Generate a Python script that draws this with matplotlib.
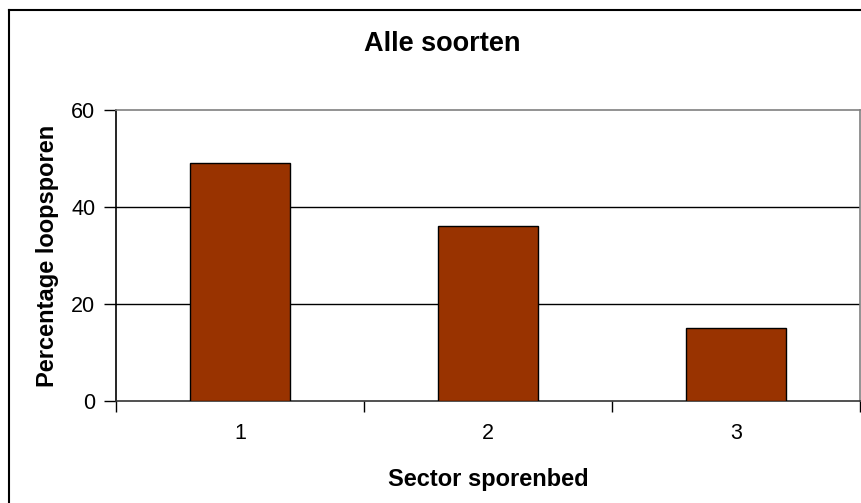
import matplotlib
matplotlib.use("Agg")
import matplotlib.pyplot as plt
from matplotlib.lines import Line2D

plt.rcParams['font.family'] = ['Liberation Sans', 'DejaVu Sans']

categories = ["1", "2", "3"]
values = [49, 36, 15]
yticks = [0, 20, 40, 60]
title = "Alle soorten"
xlabel = "Sector sporenbed"
ylabel = "Percentage loopsporen"

W, H = 861, 503
fig = plt.figure(figsize=(W / 100, H / 100), dpi=100)
ax = fig.add_axes([116 / W, 1 - 401 / H, (860 - 116) / W, (401 - 110) / H])

x = list(range(1, len(categories) + 1))
ax.bar(x, values, width=0.4, color="#993300", edgecolor="black", linewidth=1.0, zorder=3)

ax.set_xlim(0.5, len(categories) + 0.5)
ax.set_ylim(0, 60)
ax.set_yticks(yticks)
ax.set_yticklabels([str(v) for v in yticks], fontsize=15.5)
for v in yticks[1:-1]:
    ax.axhline(v, color="black", linewidth=1.0, zorder=1)

# category boundaries as major ticks, labels at minor positions
ax.set_xticks([i + 0.5 for i in range(0, len(categories) + 1)])
ax.set_xticklabels([])
ax.set_xticks(x, minor=True)
ax.set_xticklabels(categories, minor=True, fontsize=15.5)
ax.tick_params(axis="x", which="major", direction="out", length=8, width=1, color="black")
ax.tick_params(axis="x", which="minor", length=0, pad=16)
ax.tick_params(axis="y", direction="out", length=9, width=1, color="black", pad=6)

for side in ["top", "right"]:
    ax.spines[side].set_color("#808080")
    ax.spines[side].set_linewidth(1.2)
ax.spines["left"].set_color("black")
ax.spines["left"].set_linewidth(1.2)
ax.spines["bottom"].set_color("#333333")
ax.spines["bottom"].set_linewidth(1.2)

ax.set_xlabel(xlabel, fontsize=17, fontweight="bold", labelpad=17)
ax.set_ylabel(ylabel, fontsize=17, fontweight="bold", labelpad=9)

fig.text(442 / W, 1 - 44 / H, title, fontsize=19.5, fontweight="bold",
         ha="center", va="center")

# outer chart border (only top and left visible)
fig.add_artist(Line2D([9 / W, 9 / W], [0, 1 - 10 / H], transform=fig.transFigure,
                      color="black", linewidth=1.5))
fig.add_artist(Line2D([9 / W, 1], [1 - 10 / H, 1 - 10 / H], transform=fig.transFigure,
                      color="black", linewidth=1.5))

fig.savefig("out.png", dpi=100)
